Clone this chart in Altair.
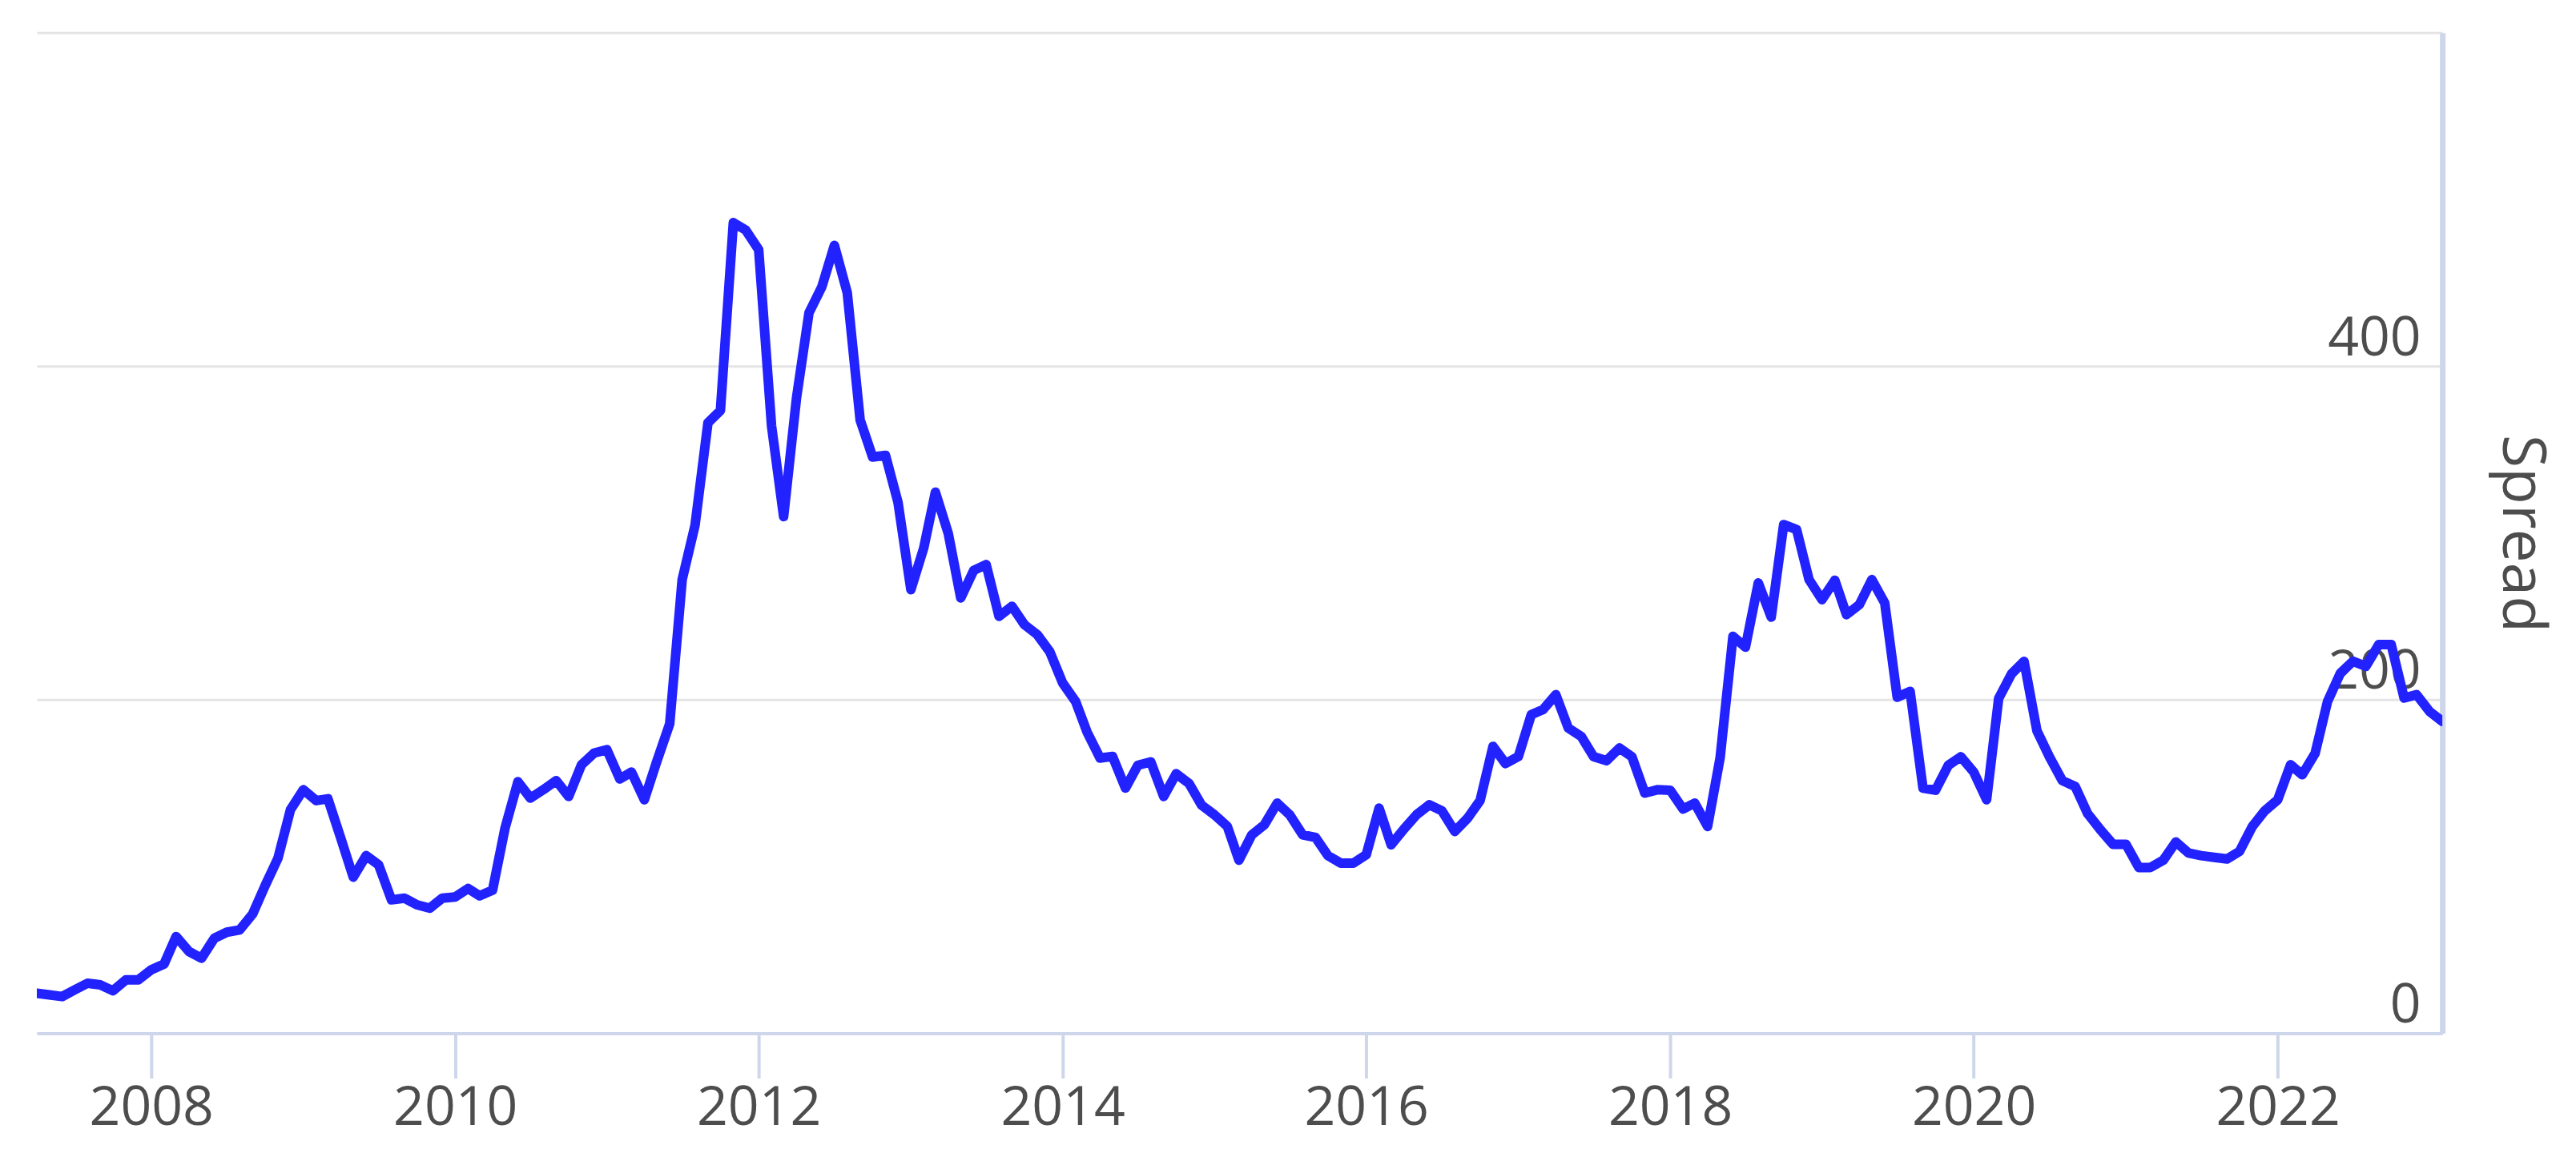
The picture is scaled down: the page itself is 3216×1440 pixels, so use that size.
import altair as alt
import pandas as pd

# Monthly spread values (Apr 2007 .. Feb 2023)
v2007 = [24, 23, 22, 26, 30, 29, 25.5, 32, 32]
v2008 = [38, 41.5, 58, 49, 45, 57, 60.6, 62, 71.5, 88.5, 105, 134]
v2009 = [146, 139.5, 140.6, 117, 93.6, 106.5, 101, 80, 81, 77, 75, 81]
v2010 = [81.7, 86.8, 82.4, 85.8, 123, 150.8, 141, 146, 151.5, 142, 161, 168]
v2011 = [170, 152.5, 156.6, 140, 163, 185.5, 272, 304.7, 366, 373.4, 486, 481.5]
v2012 = [469.8, 364, 309.8, 381, 432, 447.6, 472.4, 444, 367.7, 345.5, 346.5, 318.4]
v2013 = [266, 291, 324.4, 299.6, 261, 277.5, 281, 250, 256, 245, 239, 228.8]
v2014 = [210, 199, 180.4, 165, 166, 147, 160.7, 162.7, 142, 155.6, 149.8, 136.8]
v2015 = [131, 124, 103.8, 119, 125, 138, 131, 119, 117.4, 106.5, 102, 102]
v2016 = [107, 135, 113, 122.5, 131, 137, 133.4, 121, 129, 139.6, 172, 161.7]
v2017 = [166, 191, 194, 203, 183, 178, 165.8, 163.4, 171, 165.8, 144, 146]
v2018 = [145.7, 134.5, 138, 124, 165, 238, 231.5, 270, 249.5, 305, 302, 272]
v2019 = [260, 271.6, 251, 257, 272, 258, 201.5, 205, 147, 145.7, 160.7, 165.8]
v2020 = [156.6, 140, 200.8, 215.5, 223, 181.4, 165.8, 151.5, 148, 131.7, 121.9, 113.3]
v2021 = [113.3, 99.4, 99.4, 103.8, 114.7, 108, 106.5, 105.5, 104.5, 109, 124, 133.4]
v2022 = [140, 161, 155, 167.8, 199, 216, 223, 220, 233, 233, 201, 203]
v2023 = [193, 187]

start_month = "2007-04-01"
tick_years = [2008, 2010, 2012, 2014, 2016, 2018, 2020, 2022]
y_ticks = [0, 200, 400, 600]

values = (v2007 + v2008 + v2009 + v2010 + v2011 + v2012 + v2013 + v2014 + v2015
          + v2016 + v2017 + v2018 + v2019 + v2020 + v2021 + v2022 + v2023)
dates = pd.date_range(start_month, periods=len(values), freq="MS")
df = pd.DataFrame({"date": dates, "Spread": values})

axis_col = "#cdd6ea"
text_col = "#4d4d4d"
font = "Open Sans"

chart = alt.Chart(df).mark_line(
    color="#2222ff", strokeWidth=12, strokeJoin="round", strokeCap="round", clip=True
).encode(
    x=alt.X(
        "date:T",
        scale=alt.Scale(domain=[dates[0].isoformat(), dates[-1].isoformat()], nice=False),
        axis=alt.Axis(
            values=[alt.DateTime(year=y, month=1, date=1) for y in tick_years],
            format="%Y",
            grid=False,
            title=None,
            domainColor=axis_col,
            domainWidth=4,
            tickColor=axis_col,
            tickWidth=4,
            tickSize=56,
            labelPadding=4,
            labelFont=font,
            labelFontSize=68,
            labelColor=text_col,
        ),
    ),
    y=alt.Y(
        "Spread:Q",
        scale=alt.Scale(domain=[0, 600], nice=False, zero=True),
        axis=alt.Axis(
            orient="right",
            values=y_ticks,
            labelExpr="datum.value == 600 ? '' : datum.label",
            grid=True,
            gridColor="#e4e4e4",
            gridWidth=3,
            domain=True,
            domainColor=axis_col,
            domainWidth=7,
            ticks=False,
            tickSize=0,
            labelAlign="right",
            labelBaseline="bottom",
            labelPadding=-27,
            labelFont=font,
            labelFontSize=68,
            labelColor=text_col,
            title="Spread",
            titleFont=font,
            titleFontSize=75,
            titleFontWeight="normal",
            titleColor=text_col,
            titleAngle=90,
            titleAlign="center",
            titleBaseline="middle",
            titleX=98,
            titleY=626,
        ),
    ),
).properties(
    width=3006,
    height=1251,
    padding={"left": 38, "top": 32, "right": 24, "bottom": 12},
    background="white",
).configure_view(stroke=None)

chart.save("out.html", embed_options={"renderer": "svg", "actions": False})
